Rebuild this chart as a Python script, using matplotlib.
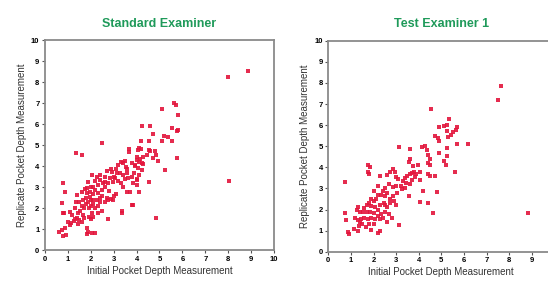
import matplotlib
matplotlib.use("Agg")
import matplotlib.pyplot as plt

plt.rcParams['font.family'] = ['Liberation Sans', 'DejaVu Sans']

# Standard Examiner: initial vs replicate pocket depth
std_x = [8.85, 8.0, 8.05, 4.85, 2.5, 1.35, 1.6,
         5.65, 5.7, 5.1, 5.8, 4.25, 4.6, 5.55, 5.75, 5.8, 4.7, 5.2, 5.35, 5.1, 5.55, 4.2, 4.55,
         5.25, 5.75, 4.95, 4.1, 4.2, 4.05, 3.65, 3.65, 4.55, 4.6, 4.8, 4.85, 4.45, 4.7, 4.0, 4.15,
         4.1, 4.25, 4.3, 3.95, 4.05, 4.55, 4.1, 4.0, 4.0, 3.8, 3.35, 3.35, 2.75,
         4.27, 4.0, 3.79, 3.93, 3.42, 3.52, 3.57, 3.42, 3.64, 3.79, 4.0, 4.22, 3.2, 3.13, 3.28,
         2.91, 3.06, 2.84, 2.98, 2.62, 2.77, 2.55, 2.4, 2.33, 2.62, 2.04, 2.26, 1.89, 2.11, 1.82,
         0.8, 0.87, 1.38, 1.6, 1.82, 1.97, 1.67, 1.89, 2.11, 2.26, 2.4, 2.77, 2.62, 2.98, 3.6, 3.7,
         3.86, 0.73, 1.09, 0.84,
         0.8, 1.02, 1.09, 0.87, 0.73, 0.6, 0.8, 0.9, 1.82, 1.89, 2.04, 2.18, 1.85, 1.3, 1.4, 1.5,
         1.6, 1.7, 1.9, 2.1, 2.0, 1.45, 1.55, 1.6, 1.7, 1.8, 1.9, 2.0, 2.1, 2.2, 2.3, 2.4, 1.3,
         1.2, 1.35, 1.5, 2.5, 2.7, 2.9, 3.0, 3.1, 2.2, 2.3, 2.1, 1.75, 2.0, 2.5, 2.8, 2.05, 1.65,
         1.45, 1.25, 1.15, 3.1, 3.3, 3.5, 2.7, 2.9, 2.4, 2.6, 3.0, 3.2, 3.4, 3.3, 3.5, 3.6, 3.9,
         4.1, 3.85, 2.2, 2.0, 1.8, 2.3, 2.5, 1.95]
std_y = [8.55, 8.25, 3.3, 1.55, 5.1, 4.65, 4.55,
         7.0, 6.95, 6.75, 6.45, 5.95, 5.95, 5.85, 5.7, 5.75, 5.55, 5.45, 5.4, 5.2, 5.2, 5.2, 5.2,
         3.85, 4.4, 4.25, 4.9, 4.85, 4.8, 4.85, 4.7, 4.8, 4.75, 4.75, 4.55, 4.55, 4.4, 4.45, 4.35,
         4.2, 4.15, 4.1, 4.0, 3.95, 3.25, 2.8, 3.1, 3.4, 2.15, 1.9, 1.8, 1.5,
         4.47, 4.3, 4.15, 4.07, 4.15, 3.99, 3.67, 3.6, 3.44, 3.51, 3.36, 3.83, 4.07, 3.67, 3.67,
         3.75, 3.44, 3.44, 3.28, 3.28, 3.2, 3.2, 3.36, 3.12, 3.04, 3.6, 3.51, 3.28, 3.04, 2.96,
         3.2, 2.8, 2.64, 2.8, 2.72, 2.56, 2.4, 2.32, 2.4, 2.4, 2.48, 2.4, 2.32, 2.4, 2.8, 2.8,
         2.17, 2.25, 1.85, 1.8,
         1.77, 1.37, 1.21, 1.06, 0.98, 0.9, 0.7, 0.75, 1.06, 0.9, 0.82, 0.82, 0.8, 1.5, 1.55, 1.45,
         1.35, 1.55, 1.6, 1.6, 1.5, 1.8, 1.9, 2.1, 2.0, 2.2, 2.0, 2.1, 2.2, 2.0, 2.1, 2.3, 2.0,
         1.7, 2.3, 2.3, 2.6, 2.5, 2.45, 2.6, 2.7, 2.9, 2.75, 2.7, 2.95, 3.0, 2.9, 2.85, 1.8, 1.7,
         1.25, 1.4, 1.3, 3.9, 4.2, 4.25, 3.8, 3.9, 3.6, 3.5, 3.5, 3.3, 3.0, 3.2, 3.4, 3.9, 3.7,
         3.6, 3.2, 3.3, 2.4, 2.5, 1.8, 1.9, 2.8]

# Test Examiner 1
test_x = [7.65, 7.5, 8.85, 4.55, 0.75, 3.15, 3.15,
          5.35, 4.9, 5.1, 5.25, 5.7, 5.65, 5.5, 5.45, 5.3, 5.25, 4.7, 4.85, 5.7, 6.2, 4.9, 5.25,
          5.25, 4.9, 5.1, 5.2, 5.6, 4.15, 4.3, 4.35, 4.4, 4.5, 4.4, 4.5, 3.6, 3.6, 3.55, 3.6, 3.7,
          3.8, 3.9, 3.75, 3.95, 4.05, 3.5, 3.4, 4.4, 4.5, 4.7, 4.05, 4.2, 4.05, 4.4, 4.8, 4.65,
          3.55, 2.8, 3.0,
          1.75, 1.85, 1.75, 1.8, 2.3, 2.75, 2.95, 3.0, 3.1, 2.85, 2.6, 3.3, 3.45, 3.2, 3.0, 2.85,
          2.7, 2.5, 2.4, 2.35, 2.5, 2.6, 2.75, 2.85, 2.9, 2.2, 2.1, 2.0, 1.9, 1.8, 1.7, 1.9, 2.05,
          2.2, 2.3, 2.45, 2.6, 2.5, 2.35, 2.2, 2.0, 1.85, 1.7, 1.55, 1.4, 1.25, 1.3, 1.6, 1.2,
          1.3, 1.4, 1.5, 1.35, 1.45, 1.6, 1.75, 1.9, 2.05, 2.3, 2.4, 1.15, 1.3, 1.65, 1.8, 1.9,
          2.3, 2.2, 0.85, 0.9, 0.75, 0.8, 2.0, 2.6, 2.7, 2.0, 2.2, 2.5, 2.75, 3.05, 3.25, 3.4,
          3.6, 3.7, 3.85]
test_y = [7.85, 7.2, 1.85, 6.75, 3.3, 4.95, 1.25,
          6.3, 5.9, 5.95, 6.0, 5.9, 5.75, 5.65, 5.55, 5.45, 5.7, 5.5, 5.4, 5.1, 5.1, 5.25, 4.9,
          4.55, 4.7, 4.3, 4.1, 3.8, 4.95, 5.0, 4.8, 4.6, 4.4, 4.2, 4.1, 4.85, 4.4, 4.25, 3.7, 3.75,
          3.8, 3.7, 4.05, 4.1, 3.8, 3.6, 3.5, 3.7, 3.6, 3.6, 3.4, 2.9, 2.35, 2.3, 2.85, 1.85,
          2.65, 1.6, 2.2,
          4.1, 4.0, 3.8, 3.7, 3.6, 3.8, 3.8, 3.55, 3.45, 3.9, 3.65, 3.35, 3.25, 3.1, 3.1, 3.05,
          3.2, 3.0, 2.9, 2.7, 2.65, 2.8, 2.5, 2.65, 2.4, 2.7, 2.5, 2.4, 2.5, 2.3, 2.2, 2.15, 2.1,
          2.0, 2.2, 2.3, 2.1, 1.9, 1.8, 1.7, 1.85, 1.9, 1.9, 1.9, 1.9, 2.0, 2.1, 2.05, 1.6,
          1.5, 1.4, 1.3, 1.2, 1.55, 1.6, 1.55, 1.6, 1.55, 1.55, 1.6, 1.1, 1.0, 1.15, 1.3, 1.05,
          1.0, 0.9, 0.95, 0.85, 1.85, 1.5, 1.3, 1.4, 1.8, 2.9, 3.1, 2.2, 2.3, 2.8, 2.95, 3.0,
          3.2, 3.4, 3.55]

titles = ["Standard Examiner", "Test Examiner 1"]
xlabel = "Initial Pocket Depth Measurement"
ylabel = "Replicate Pocket Depth Measurement"
ticks = list(range(0, 11))

fig = plt.figure(figsize=(5.48, 2.85), dpi=100)
ax1 = fig.add_axes([0.0821, 0.1211, 0.4179, 0.7368])
ax2 = fig.add_axes([0.5991, 0.1168, 0.4124, 0.7404])

for ax, xs, ys, title in [(ax1, std_x, std_y, titles[0]), (ax2, test_x, test_y, titles[1])]:
    ax.scatter(xs, ys, s=10, color='#e3153c', marker='s', linewidths=0, alpha=0.9)
    ax.set_xlim(0, 10)
    ax.set_ylim(0, 10)
    ax.set_xticks(ticks)
    ax.set_yticks(ticks)
    ax.tick_params(labelsize=5.5, length=2.5, width=0.8, pad=1.5, color='#555555')
    for lbl in ax.get_xticklabels() + ax.get_yticklabels():
        lbl.set_fontweight('bold')
    for sp in ax.spines.values():
        sp.set_color('#8a8a8a')
        sp.set_linewidth(1.3)
    ax.set_title(title, color='#1f9a5a', fontsize=9, fontweight='bold', pad=10)
    ax.set_xlabel(xlabel, fontsize=7, color='#333333', labelpad=2)
    ax.set_ylabel(ylabel, fontsize=7, color='#333333', labelpad=3)

# the right panel runs past the picture edge, so its "10" label is not shown
ax2.set_xticklabels([str(t) for t in ticks[:-1]] + [''], fontweight='bold')

fig.savefig("out.png", dpi=100)
